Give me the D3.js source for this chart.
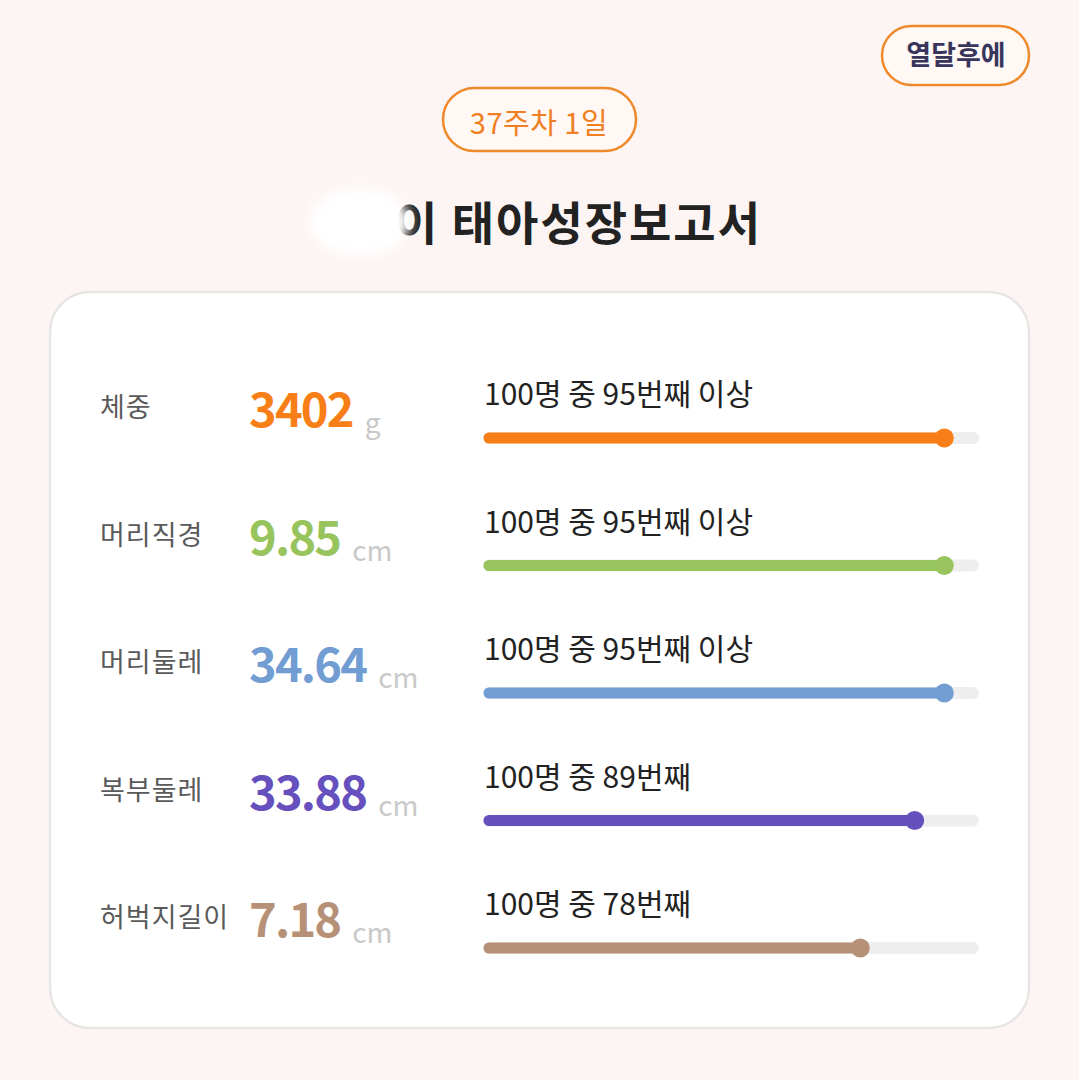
<!DOCTYPE html>
<html><head><meta charset="utf-8">
<script src="https://cdn.jsdelivr.net/npm/d3@7"></script>
<style>
html,body{margin:0;padding:0;background:#fdf5f3;}
svg{display:block;font-family:"Noto Sans CJK KR","Noto Sans",sans-serif;}
</style></head><body>
<svg id="chart" width="1079" height="1080"></svg>
<script>
const categories = ["체중","머리직경","머리둘레","복부둘레","허벅지길이"];
const measureValues = ["3402","9.85","34.64","33.88","7.18"];
const units = ["g","cm","cm","cm","cm"];
const percentiles = [95,95,95,89,78];
const rankLabels = ["100명 중 95번째 이상","100명 중 95번째 이상","100명 중 95번째 이상","100명 중 89번째","100명 중 78번째"];
const colors = ["#f87e17","#97c45d","#719dd3","#6550bd","#b69178"];
const headerButton = "열달후에";
const weekLabel = "37주차 1일";
const titleText = "이 태아성장보고서";

const svg = d3.select("#chart");
svg.append("rect").attr("width",1079).attr("height",1080).attr("fill","#fdf5f3");

const defs = svg.append("defs");
defs.append("filter").attr("id","blur").attr("x","-50%").attr("y","-50%").attr("width","200%").attr("height","200%")
  .append("feGaussianBlur").attr("stdDeviation",6);

// top-right button
svg.append("rect").attr("x",882).attr("y",26).attr("width",147).attr("height",59).attr("rx",29.5)
  .attr("fill","#fff8f5").attr("stroke","#ef8a2c").attr("stroke-width",2.5);
svg.append("text").attr("x",956).attr("y",65).attr("text-anchor","middle")
  .attr("font-size",27).attr("font-weight",700).attr("fill","#37355c").text(headerButton);

// week pill
svg.append("rect").attr("x",443).attr("y",88).attr("width",193).attr("height",63).attr("rx",31.5)
  .attr("fill","#fff8f5").attr("stroke","#ef8a2c").attr("stroke-width",2.5);
svg.append("text").attr("x",539).attr("y",134).attr("text-anchor","middle")
  .attr("font-size",29).attr("font-weight",400).attr("fill","#ef7f22").attr("letter-spacing",0.5).text(weekLabel);

// title
svg.append("text").attr("x",762).attr("y",240).attr("text-anchor","end")
  .attr("font-size",46).attr("font-weight",700).attr("fill","#222222").attr("letter-spacing",2).text(titleText);
svg.append("ellipse").attr("cx",360).attr("cy",222).attr("rx",50).attr("ry",34)
  .attr("fill","#ffffff").attr("filter","url(#blur)");

// card
svg.append("rect").attr("x",50).attr("y",292).attr("width",979).attr("height",736).attr("rx",40)
  .attr("fill","#ffffff").attr("stroke","#e8e5e5").attr("stroke-width",2.5);

const y = d3.scalePoint().domain(categories).range([427,937]);
const x = d3.scaleLinear().domain([0,100]).range([475,969]);

const rows = svg.selectAll("g.row").data(categories).join("g").attr("class","row")
  .attr("transform",d=>`translate(0,${y(d)})`);

rows.append("text").attr("x",100).attr("y",-10).attr("font-size",27).attr("fill","#5a5a5a")
  .attr("letter-spacing",1).text(d=>d);

rows.each(function(d,i){
  const g = d3.select(this);
  const t = g.append("text").attr("x",249).attr("y",0).attr("font-size",47).attr("font-weight",700)
    .attr("fill",colors[i]).attr("letter-spacing",-1.8).text(measureValues[i]);
  const w = t.node().getComputedTextLength();
  g.append("text").attr("x",249+w+12).attr("y",6).attr("font-size",28).attr("fill","#c9c9c9").text(units[i]);

  g.append("text").attr("x",484).attr("y",-22).attr("font-size",30).attr("fill","#222222")
    .attr("letter-spacing",0).text(rankLabels[i]);

  g.append("line").attr("x1",x(0)+14).attr("x2",x(100)+4).attr("y1",11).attr("y2",11)
    .attr("stroke","#eeeeee").attr("stroke-width",12).attr("stroke-linecap","round");
  g.append("line").attr("x1",x(0)+14).attr("x2",x(percentiles[i])).attr("y1",11).attr("y2",11)
    .attr("stroke",colors[i]).attr("stroke-width",11).attr("stroke-linecap","round");
  g.append("circle").attr("cx",x(percentiles[i])).attr("cy",11).attr("r",9.5).attr("fill",colors[i]);
});
</script>
</body></html>
